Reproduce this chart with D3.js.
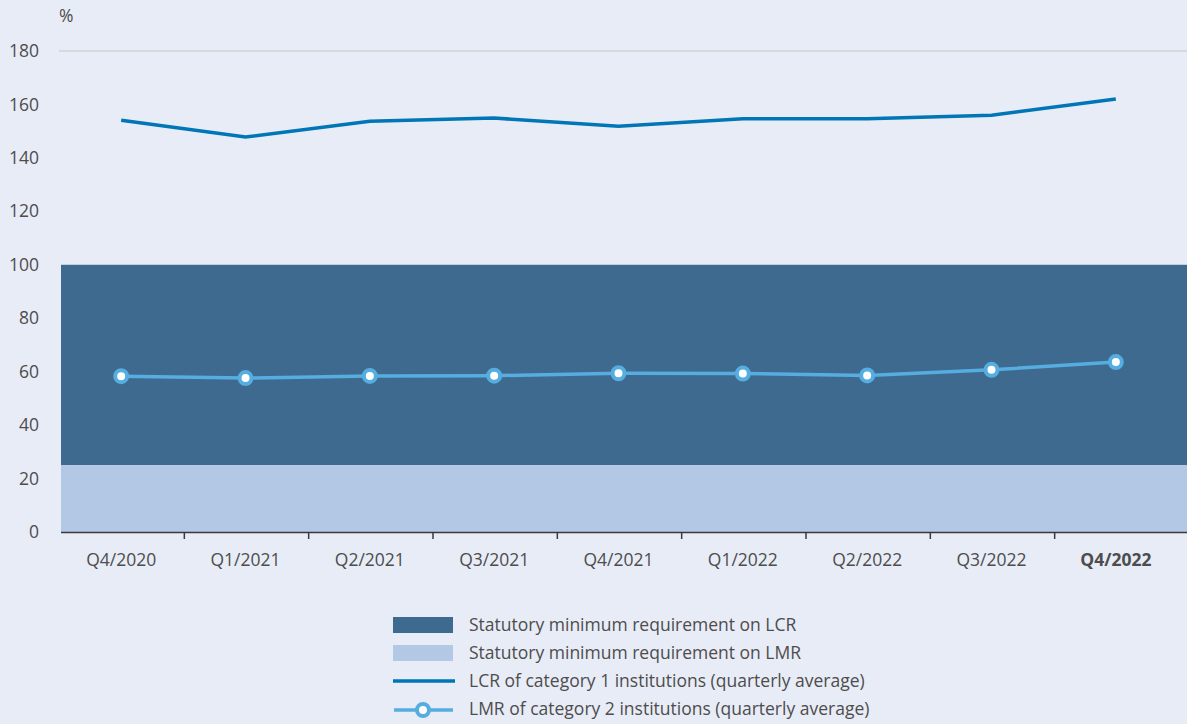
<!DOCTYPE html>
<html><head><meta charset="utf-8">
<script src="https://cdn.jsdelivr.net/npm/d3@7"></script>
<style>
body{margin:0;background:#e8ecf7;}
text{font-family:"Open Sans","Noto Sans",sans-serif;fill:#4d4d4d;}
</style></head><body>
<svg id="c" width="1187" height="724"></svg>
<script>
const categories = ["Q4/2020","Q1/2021","Q2/2021","Q3/2021","Q4/2021","Q1/2022","Q2/2022","Q3/2022","Q4/2022"];
const lcrValues = [154.1, 147.8, 153.7, 154.9, 151.8, 154.6, 154.6, 156.0, 162.0];
const lmrValues = [58.3, 57.6, 58.4, 58.5, 59.4, 59.3, 58.6, 60.7, 63.6];
const lcrRequirement = 100;
const lmrRequirement = 25;
const yTicks = [0,20,40,60,80,100,120,140,160,180];
const legendLabels = ["Statutory minimum requirement on LCR","Statutory minimum requirement on LMR","LCR of category 1 institutions (quarterly average)","LMR of category 2 institutions (quarterly average)"];

const svg = d3.select("#c");
const W = 1187;
const FS = 17.5;
svg.append("rect").attr("width",W).attr("height",724).attr("fill","#e8ecf7");
const x = d3.scaleBand().domain(categories).range([59,1178]);
const xEdge = [61, 1187];
const y = d3.scaleLinear().domain([0,180]).range([532,51]);

// top grid line
svg.append("line").attr("x1",59).attr("x2",W).attr("y1",y(180)).attr("y2",y(180)).attr("stroke","#d3d3d6").attr("stroke-width",1.5);

// bands
svg.append("rect").attr("x",xEdge[0]).attr("width",xEdge[1]-xEdge[0]).attr("y",y(lcrRequirement)).attr("height",y(lmrRequirement)-y(lcrRequirement)).attr("fill","#3e6a90");
svg.append("rect").attr("x",xEdge[0]).attr("width",xEdge[1]-xEdge[0]).attr("y",y(lmrRequirement)).attr("height",y(0)-y(lmrRequirement)).attr("fill","#b2c8e4");

// y labels
svg.selectAll(".yl").data(yTicks).enter().append("text")
  .attr("x",39).attr("y",d=>y(d)).attr("dy","0.35em").attr("text-anchor","end")
  .attr("font-size",FS).text(d=>d);
svg.append("text").attr("x",59).attr("y",22).attr("font-size",FS).text("%");

// x axis
svg.append("line").attr("x1",61).attr("x2",W).attr("y1",y(0)+0.5).attr("y2",y(0)+0.5).attr("stroke","#3a3a3a").attr("stroke-width",1.5);
svg.selectAll(".xt").data(categories.slice(1)).enter().append("line")
  .attr("x1",d=>x(d)+1).attr("x2",d=>x(d)+1).attr("y1",y(0)).attr("y2",y(0)+7)
  .attr("stroke","#3a3a3a").attr("stroke-width",1.5);
svg.selectAll(".xl").data(categories).enter().append("text")
  .attr("x",d=>x(d)+x.bandwidth()/2).attr("y",566).attr("text-anchor","middle")
  .attr("font-size",FS).attr("font-weight",(d,i)=>i===categories.length-1?"bold":"normal")
  .attr("fill",(d,i)=>i===categories.length-1?"#333":"#4d4d4d").text(d=>d);

const cx = d=>x(d)+x.bandwidth()/2;
// LCR line
svg.append("path").datum(lcrValues).attr("fill","none").attr("stroke","#0076b6").attr("stroke-width",3.5)
  .attr("d",d3.line().x((d,i)=>cx(categories[i])).y(d=>y(d)));
// LMR line
svg.append("path").datum(lmrValues).attr("fill","none").attr("stroke","#55ade0").attr("stroke-width",3.5)
  .attr("d",d3.line().x((d,i)=>cx(categories[i])).y(d=>y(d)));
svg.selectAll(".pt").data(lmrValues).enter().append("circle")
  .attr("cx",(d,i)=>cx(categories[i])).attr("cy",d=>y(d)).attr("r",6)
  .attr("fill","#fff").attr("stroke","#55ade0").attr("stroke-width",4);

// legend
const lg = svg.append("g");
const ly = [625,653,681,709];
lg.append("rect").attr("x",393).attr("y",617).attr("width",60).attr("height",16).attr("fill","#3e6a90");
lg.append("rect").attr("x",393).attr("y",645).attr("width",60).attr("height",16).attr("fill","#b2c8e4");
lg.append("line").attr("x1",393).attr("x2",455).attr("y1",681).attr("y2",681).attr("stroke","#0076b6").attr("stroke-width",3.5);
lg.append("line").attr("x1",394).attr("x2",453).attr("y1",710).attr("y2",710).attr("stroke","#55ade0").attr("stroke-width",3.5);
lg.append("circle").attr("cx",423).attr("cy",710).attr("r",6).attr("fill","#fff").attr("stroke","#55ade0").attr("stroke-width",4);
lg.selectAll(".lt").data(legendLabels).enter().append("text")
  .attr("x",469).attr("y",(d,i)=>ly[i]).attr("dy","0.35em").attr("font-size",FS).text(d=>d);
</script>
</body></html>
